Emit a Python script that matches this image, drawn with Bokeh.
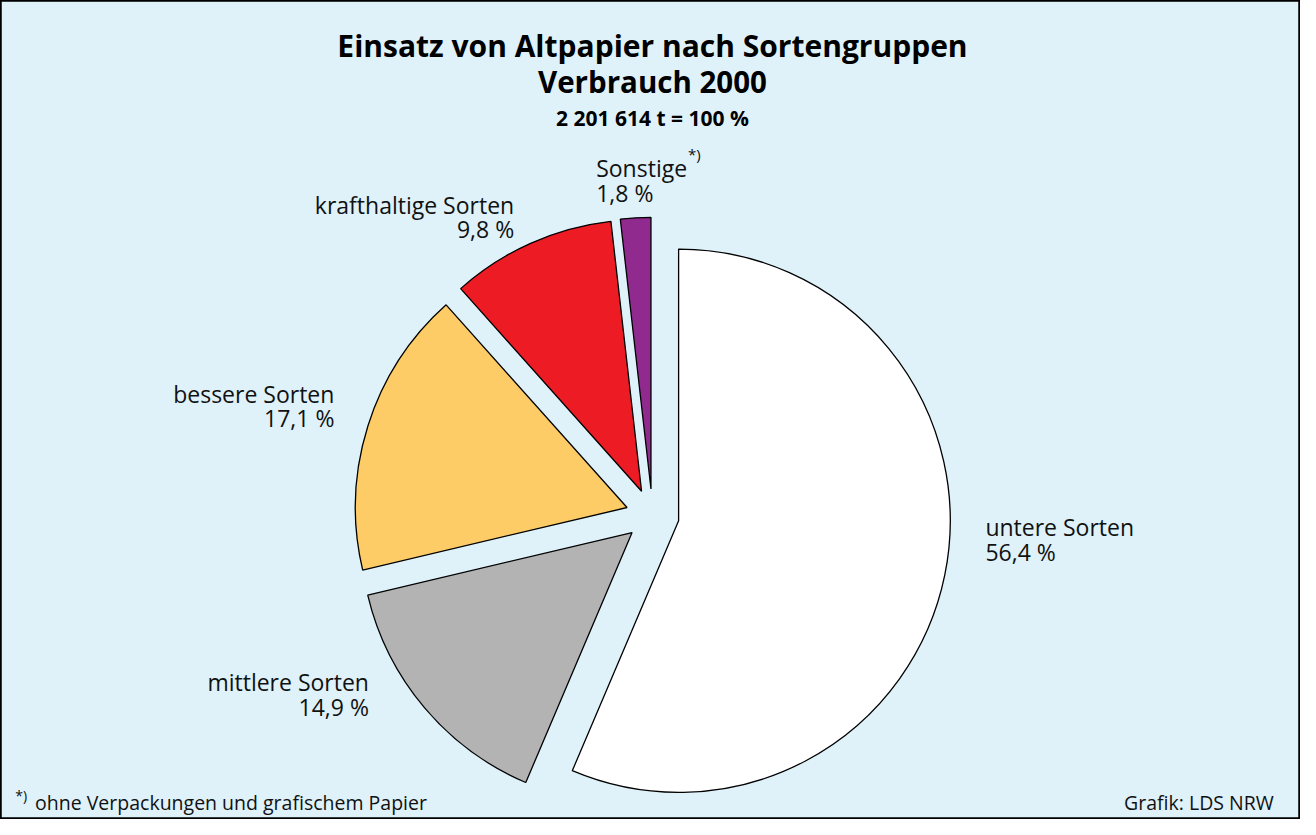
import numpy as np
from bokeh.plotting import figure
from bokeh.models import Range1d, ColumnDataSource
from bokeh.core.properties import value
from bokeh.embed import file_html
from bokeh.resources import INLINE

# ---------------- data ----------------
categories = ["untere Sorten", "mittlere Sorten", "bessere Sorten",
              "krafthaltige Sorten", "Sonstige"]
shares = [56.4, 14.9, 17.1, 9.8, 1.8]
share_labels = ["56,4 %", "14,9 %", "17,1 %", "9,8 %", "1,8 %"]
colors = ["#ffffff", "#b3b3b3", "#fecc66", "#ed1c24", "#912a8e"]

title_lines = ["Einsatz von Altpapier nach Sortengruppen", "Verbrauch 2000"]
subtitle = "2 201 614 t = 100 %"
footnote = "ohne Verpackungen und grafischem Papier"
credit = "Grafik: LDS NRW"

# ---------------- layout ----------------
W, H = 1316, 835           # reference canvas, used as data coordinates
BG = "#dff2fa"
FONT = value("Open Sans")
CX, CY = 660, 525          # pie centre (reference pixels)
R = 275                    # radius
EXPLODE = 27               # offset of every slice

def Y(y):                  # reference pixel y -> data y
    return H - y

p = figure(width=1300, height=819,
           x_range=Range1d(0, W), y_range=Range1d(0, H),
           output_backend="svg", toolbar_location=None,
           x_axis_type=None, y_axis_type=None, min_border=0,
           background_fill_color=BG, border_fill_color=BG,
           outline_line_color="black", outline_line_width=2.5)
p.grid.visible = False

# ---------------- pie slices ----------------
vals = np.array(shares, dtype=float)
cum = np.concatenate([[0.0], np.cumsum(vals)]) / vals.sum() * 2 * np.pi
theta0, theta1 = cum[:-1], cum[1:]        # clockwise from north
mid = (theta0 + theta1) / 2
phi_mid = np.pi / 2 - mid                 # bokeh angle convention
xs = CX + EXPLODE * np.cos(phi_mid)
ys = Y(CY) + EXPLODE * np.sin(phi_mid)
src = ColumnDataSource(dict(x=xs, y=ys,
                            start=np.pi / 2 - theta1, end=np.pi / 2 - theta0,
                            color=colors, name=categories))
p.wedge(x="x", y="y", radius=R, start_angle="start", end_angle="end",
        direction="anticlock", fill_color="color", line_color="black",
        line_width=1.3, source=src)

# ---------------- title ----------------
p.text(x=[660], y=[Y(46)], text=[title_lines[0]], text_font=FONT,
       text_font_size="30px", text_font_style="bold", text_align="center",
       text_baseline="alphabetic", text_color="black")
p.text(x=[660], y=[Y(83)], text=[title_lines[1]], text_font=FONT,
       text_font_size="29.5px", text_font_style="bold", text_align="center",
       text_baseline="alphabetic", text_color="black")
p.text(x=[660], y=[Y(120)], text=[subtitle], text_font=FONT,
       text_font_size="21px", text_font_style="bold", text_align="center",
       text_baseline="alphabetic", text_color="black")

# ---------------- slice labels ----------------
label_pos = [(997, 537, "left"), (373, 695, "right"), (338, 401, "right"),
             (520, 208, "right"), (603, 171, "left")]
for cat, lab, (lx, ly, al) in zip(categories, share_labels, label_pos):
    p.text(x=[lx, lx], y=[Y(ly), Y(ly + 25)], text=[cat, lab],
           text_font=FONT, text_font_size="23px", text_align=al,
           text_baseline="alphabetic", text_color="#111111")
# superscript marker after "Sonstige"
p.text(x=[696], y=[Y(157)], text=["*)"], text_font=FONT,
       text_font_size="15px", text_align="left", text_baseline="alphabetic",
       text_color="#111111")

# ---------------- footnote & credit ----------------
p.text(x=[15], y=[Y(811)], text=["*)"], text_font=FONT,
       text_font_size="14px", text_align="left", text_baseline="alphabetic",
       text_color="#111111")
p.text(x=[35], y=[Y(818)], text=[footnote], text_font=FONT,
       text_font_size="19.5px", text_align="left", text_baseline="alphabetic",
       text_color="#111111")
p.text(x=[1289], y=[Y(818)], text=[credit], text_font=FONT,
       text_font_size="19.5px", text_align="right", text_baseline="alphabetic",
       text_color="#111111")

open("out.html", "w").write(file_html(p, INLINE))
